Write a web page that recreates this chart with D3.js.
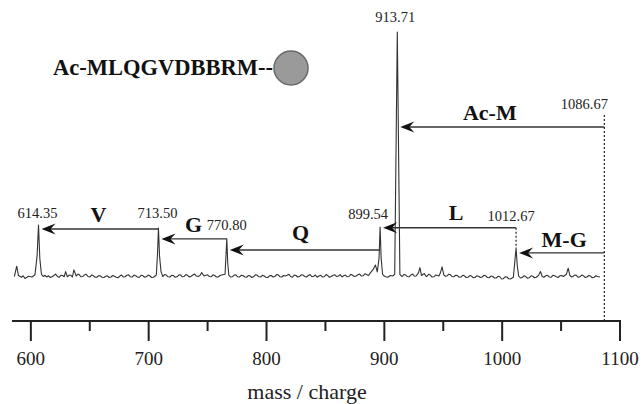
<!DOCTYPE html>
<html>
<head>
<meta charset="utf-8">
<script src="https://cdn.jsdelivr.net/npm/d3@7"></script>
<style>
  body { margin: 0; background: #fff; }
</style>
</head>
<body>
<svg id="chart" width="642" height="404"></svg>
<script>
// spectrum: [m/z, relative intensity]
const spectrum = [
  [586,0.6],[588,4.8],[589.5,1.0],[592,0.3],[593.5,0.9],[595,-0.2],[598,0.7],[601,0.4],[603.5,1.3],
  [605.3,9],[606.5,21.5],[607.6,8],[609,1.5],[610.5,0.6],[612,1.1],[613.5,0.4],[615,0.9],[616.5,0.2],[618,0.5],[619.5,1.0],[621,1.6],
  [622.5,0.6],[624,0.3],[625.5,1.1],[627,1.0],[628.3,0.5],[629.5,2.6],[631,0.5],[632.5,1.2],[634,1.1],[635.3,0.4],[636.5,3.3],[638.5,0.8],[640,1.6],[641,1.4],
  [642.5,0.5],[644,0.6],[645.5,1.3],[647,1.5],[648.5,0.6],[650,0.4],[651.5,1.2],[653,1.0],[654.5,0.3],[656,0.3],[657.5,1.0],[659,0.8],[660.5,0.3],[662,0.2],[663.5,0.7],[665,0.9],
  [666.5,0.2],[668,0.4],[669.5,1.0],[671,0.7],[672.5,0.3],[674,0.1],[675.5,0.8],[677,1.2],[678.5,0.4],[680,0.5],[681.5,1.1],[683,1.3],[684.5,0.5],[686,0.4],[687.5,1.2],[689,0.9],
  [690.5,0.4],[692,0.2],[693.5,1.1],[695,1.0],[696.5,0.3],[698,0.5],[699.5,1.2],[701,0.8],[702.5,0.2],[704,0.3],[706.5,1.2],[707.5,10],[708.3,20.3],
  [709.2,9],[710.5,2.5],[712,0.6],[713.5,1.4],[715,1.2],[716.5,0.5],[718,0.4],[719.5,1.1],[721,1.0],[722.5,0.3],[724,0.5],[725.5,1.2],[727,1.3],
  [728.5,0.5],[730,0.6],[731.5,1.4],[733,1.1],[734.5,0.4],[736,0.7],[737.5,1.2],[739,1.6],[740.5,0.8],[742,0.6],[743.5,1.0],[745,2.2],[747,0.8],[748.5,1.1],[750,1.3],
  [751.5,0.6],[753,0.5],[754.5,1.3],[756,1.0],[757.5,0.4],[759,0.4],[760.5,1.0],[762,1.2],[764.8,1.5],[765.6,9],[766.3,15.9],[767.1,6],
  [768,1.2],[769.5,0.4],[771,0.5],[772.5,1.2],[774,1.3],[775.5,0.5],[777,0.4],[778.5,1.1],[780,1.0],[781.5,0.4],[783,0.3],[784.5,1.0],[786,0.9],[787.5,0.2],[789,0.5],
  [790.5,1.3],[792,1.2],[793.5,0.5],[795,0.4],[796.5,1.1],[798,0.8],[799.5,0.3],[801,0.2],[802.5,0.9],[804,1.0],[805.5,0.4],[807,0.6],[808.5,1.4],[810,1.3],[811.5,0.5],[813,0.4],
  [814.5,1.0],[816,0.8],[817.5,1.1],[819,1.5],[820.5,0.6],[822,0.3],[823.5,1.2],[825,1.0],[826.5,0.4],[828,0.6],[829.5,1.3],[831,1.2],[832.5,0.6],[834,0.4],[835.5,1.0],[837,1.4],
  [838.5,0.5],[840,0.7],[841.5,1.2],[843,0.3],[844.5,0.8],[846,1.1],[847.5,0.4],[849,0.5],[850.5,1.4],[852,1.0],[853.5,0.3],[855,0.6],[856.5,1.1],[858,1.3],[859.5,0.6],[861,0.8],
  [862.5,1.4],[864,0.4],[865.5,0.9],[867,1.2],[868.5,0.5],[870,0.6],[871.5,1.5],[873,1.1],[874.5,0.6],[876,0.8],[877.5,1.3],[879,1.6],[880.5,0.8],[882,0.9],[883.5,1.7],[885,1.4],
  [886.5,1.0],[888,2.0],[890.5,3.5],[892.4,5.3],[894,2.5],[895.5,8],[896.4,20.7],[897.3,8],[898.5,1.5],
  [900,0.8],[901,0.5],[903,0.3],[905,1.0],[907,0.8],[908.8,1.5],[911,100],[913.2,1.5],[915,0.6],[916.5,1.4],
  [918,1.3],[919.5,0.6],[921,0.5],[922.5,1.2],[924,1.6],[925.5,0.7],[927,0.8],[929,2.2],[930.2,4.2],[931.5,1.0],[933,1.5],[934,1.8],
  [935,0.9],[936,0.6],[937.5,1.5],[939,1.2],[940.5,0.4],[942,0.5],[943.5,1.2],[945,1.0],[946.3,0.8],[947.5,2.0],[949,4.5],[950.5,1.2],[952,0.7],[953,0.8],
  [954.5,1.5],[956,1.4],[957.5,0.6],[959,0.5],[960.5,1.1],[962,1.0],[963.5,0.3],[965,0.4],[966.5,1.1],[968,0.9],[969.5,0.2],[971,0.3],[972.5,1.0],[974,0.8],[975.5,0.1],[977,0.2],
  [978.5,0.9],[980,0.7],[981.5,0.2],[983,0.4],[984.5,1.1],[986,0.9],[987.5,0.2],[989,0.1],[990.5,0.8],[992,0.6],[993.5,0.0],[995,0.0],[996.5,0.7],[998,0.5],[999.5,-0.4],[1001,-0.3],
  [1002.5,0.5],[1004,0.4],[1005.5,-0.3],[1007,-0.4],[1009.5,0.3],[1010.6,6],[1011.8,12.2],[1012.8,5],[1014,0.8],[1015.5,0.0],[1017,0.2],
  [1018.5,0.9],[1020,0.6],[1021.5,-0.1],[1023,0.1],[1024.5,0.9],[1026,0.7],[1027.5,0.1],[1029,0.3],[1031,1.2],[1032.5,2.6],[1034,0.6],[1035.5,0.3],[1037,0.9],
  [1038.5,1.1],[1040,0.4],[1041.5,0.3],[1043,1.1],[1044.5,0.9],[1046,0.5],[1047.5,0.2],[1049,0.9],[1050.5,1.0],[1052,0.6],[1054.5,1.5],[1056,4.0],[1057.5,1.0],
  [1059,0.4],[1060,0.6],[1061.5,1.2],[1063,1.1],[1064.5,0.3],[1066,0.5],[1067.5,1.2],[1069,0.9],[1070.5,0.2],[1072,0.4],[1073.5,1.0],[1075,0.8],[1076.5,0.1],[1078,0.3],[1079.5,0.9],[1081,0.6],
  [1083,0.4]
];

// labelled peaks (position on the axis, printed label, tip intensity)
const peakMz     = [606.5, 708.3, 766.3, 896.4, 911.0, 1011.8];
const peakLabels = ["614.35", "713.50", "770.80", "899.54", "913.71", "1012.67"];
const peakTop    = [21.5, 20.3, 15.9, 20.7, 100, 12.2];

const precursorMz = 1086.7;
const precursorLabel = "1086.67";
const precursorTop = 66.3;

// residue losses drawn as arrows
const lossNames = ["Ac-M", "M-G", "L", "Q", "G", "V"];
const lossFrom  = [1086.7, 1086.7, 1011.8, 896.4, 766.3, 708.3];
const lossTo    = [911.0, 1011.8, 896.4, 766.3, 708.3, 606.5];
const lossLevel = [61.4, 10.2, 20.4, 11.4, 15.9, 19.9];

const majorTicks = [600, 700, 800, 900, 1000, 1100];
const minorTicks = [650, 750, 850, 950, 1050];

const peptide = "Ac-MLQGVDBBRM--";

const svg = d3.select("#chart");
const ink = "#222";
const serif = "Liberation Serif";

const x = d3.scaleLinear().domain([584, 1100]).range([12, 620]);
const y = d3.scaleLinear().domain([0, 100]).range([278, 32]);

// spectrum trace
const line = d3.line().x(d => x(d[0])).y(d => y(d[1]));
svg.append("path")
  .datum(spectrum)
  .attr("d", line)
  .attr("fill", "none")
  .attr("stroke", "#333")
  .attr("stroke-width", 1.1)
  .attr("stroke-linejoin", "round");

// axis
const axisY = 321;
const gx = svg.append("g").attr("transform", `translate(0,${axisY})`);
gx.append("line")
  .attr("x1", x(584)).attr("x2", x(1100) + 1)
  .attr("stroke", ink).attr("stroke-width", 2);
gx.selectAll(".major").data(majorTicks).join("line")
  .attr("x1", d => x(d)).attr("x2", d => x(d))
  .attr("y1", 0).attr("y2", 20)
  .attr("stroke", ink).attr("stroke-width", 2);
gx.selectAll(".minor").data(minorTicks).join("line")
  .attr("x1", d => x(d)).attr("x2", d => x(d))
  .attr("y1", 0).attr("y2", 10)
  .attr("stroke", ink).attr("stroke-width", 2);
gx.selectAll("text").data(majorTicks).join("text")
  .attr("x", d => x(d)).attr("y", 44)
  .attr("text-anchor", "middle")
  .style("font-family", serif)
  .attr("font-size", 19)
  .attr("fill", ink)
  .text(d => d);

svg.append("text")
  .attr("x", 307).attr("y", 399)
  .attr("text-anchor", "middle")
  .style("font-family", serif)
  .attr("font-size", 22)
  .attr("fill", ink)
  .text("mass / charge");

// dotted guides
svg.append("line")
  .attr("x1", x(precursorMz)).attr("x2", x(precursorMz))
  .attr("y1", y(precursorTop)).attr("y2", axisY)
  .attr("stroke", ink).attr("stroke-width", 1.2)
  .attr("stroke-dasharray", "2,2");
svg.append("line")
  .attr("x1", x(1011.8)).attr("x2", x(1011.8))
  .attr("y1", y(lossLevel[2])).attr("y2", y(peakTop[5]))
  .attr("stroke", ink).attr("stroke-width", 1.2)
  .attr("stroke-dasharray", "2,2");

// arrows
const arrows = svg.append("g");
lossNames.forEach((name, i) => {
  const x0 = x(lossFrom[i]), x1 = x(lossTo[i]) + 3, yy = y(lossLevel[i]);
  arrows.append("line")
    .attr("x1", x0).attr("x2", x1 + 8)
    .attr("y1", yy).attr("y2", yy)
    .attr("stroke", "#333").attr("stroke-width", 1.4);
  arrows.append("path")
    .attr("d", `M${x1},${yy} L${x1 + 14},${yy - 5.5} L${x1 + 9},${yy} L${x1 + 14},${yy + 5.5} Z`)
    .attr("fill", "#111");
});

// loss labels
const lossDx = {"Ac-M": -11, "M-G": 4, "L": 8, "Q": -3, "G": 1, "V": 0};
const lossDy = {"Ac-M": 7, "M-G": 6, "L": 8, "Q": 10, "G": 7, "V": 7};
svg.append("g").selectAll("text").data(lossNames).join("text")
  .attr("x", (d, i) => (x(lossFrom[i]) + x(lossTo[i])) / 2 + lossDx[d])
  .attr("y", (d, i) => y(lossLevel[i]) - lossDy[d])
  .attr("text-anchor", "middle")
  .style("font-family", serif)
  .attr("font-size", 22)
  .attr("font-weight", "bold")
  .attr("fill", "#111")
  .text(d => d);

// peak labels sit over the top of each peak's vertical (peak or arrow start)
const stemTop = peakMz.map((m, i) => {
  const lv = lossFrom.map((f, j) => f === m ? lossLevel[j] : 0);
  return Math.max(peakTop[i], ...lv);
});
const peakDx = [-1, -1, 0, -12, -2, -5];
const peakDy = [7, 10, 9, 8, 10, 7];
svg.append("g").selectAll("text").data(peakLabels).join("text")
  .attr("x", (d, i) => x(peakMz[i]) + peakDx[i])
  .attr("y", (d, i) => y(stemTop[i]) - peakDy[i])
  .attr("text-anchor", "middle")
  .style("font-family", serif)
  .attr("font-size", 14.5)
  .attr("fill", ink)
  .text(d => d);
svg.append("text")
  .attr("x", x(precursorMz) - 20)
  .attr("y", y(precursorTop) - 6)
  .attr("text-anchor", "middle")
  .style("font-family", serif)
  .attr("font-size", 14.5)
  .attr("fill", ink)
  .text(precursorLabel);

// peptide on bead
svg.append("text")
  .attr("x", 273).attr("y", 75)
  .attr("text-anchor", "end")
  .style("font-family", serif)
  .attr("font-size", 22.5)
  .attr("font-weight", "bold")
  .attr("fill", "#111")
  .text(peptide);
svg.append("circle")
  .attr("cx", 291).attr("cy", 68).attr("r", 17)
  .attr("fill", "#9a9a9a")
  .attr("stroke", "#6a6a6a")
  .attr("stroke-width", 1.5);
</script>
</body>
</html>
